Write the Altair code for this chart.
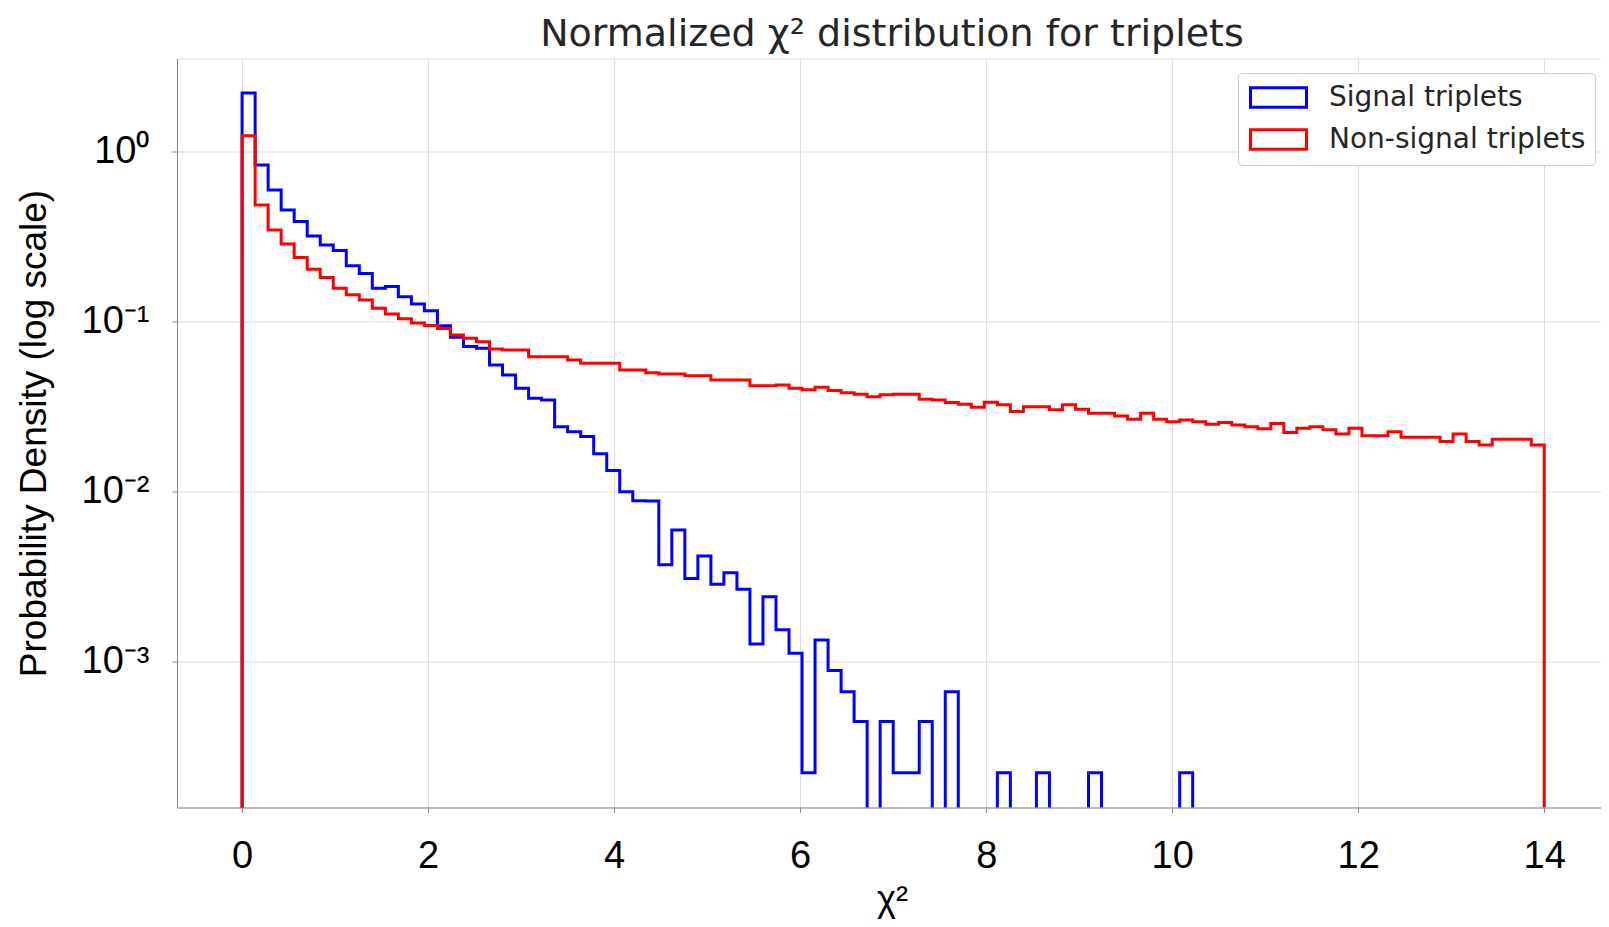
import altair as alt
import pandas as pd

# ---------------- data ----------------
N_BINS = 100
X_MIN, X_MAX = 0.0, 14.0
BIN_W = (X_MAX - X_MIN) / N_BINS
edges = [round(X_MIN + i * BIN_W, 4) for i in range(N_BINS + 1)]

series_names = ["Signal triplets", "Non-signal triplets"]
series_colors = ["#0000ff", "#ff0000"]

signal = [
    2.21, 0.835, 0.595, 0.454, 0.388, 0.319, 0.282, 0.262, 0.213, 0.192,
    0.157, 0.161, 0.140, 0.127, 0.116, 0.0946, 0.0809, 0.0713, 0.0697, 0.0556,
    0.0486, 0.0406, 0.0354, 0.0346, 0.0241, 0.0225, 0.0211, 0.0167, 0.0133, 0.0100,
    0.00885, 0.00880, 0.00372, 0.00595, 0.00308, 0.00418, 0.00285, 0.00333, 0.00267, 0.00127,
    0.00241, 0.00154, 0.00112, 0.000222, 0.00134, 0.000888, 0.000666, 0.000444, 0.0, 0.000444,
    0.000222, 0.000222, 0.000444, 0.0, 0.000666, 0.0, 0.0, 0.0, 0.000222, 0.0,
    0.0, 0.000222, 0.0, 0.0, 0.0, 0.000222, 0.0, 0.0, 0.0, 0.0,
    0.0, 0.0, 0.000222, 0.0, 0.0, 0.0, 0.0, 0.0, 0.0, 0.0,
    0.0, 0.0, 0.0, 0.0, 0.0, 0.0, 0.0, 0.0, 0.0, 0.0,
    0.0, 0.0, 0.0, 0.0, 0.0, 0.0, 0.0, 0.0, 0.0, 0.0,
]

non_signal = [
    1.24, 0.486, 0.346, 0.286, 0.238, 0.203, 0.182, 0.157, 0.144, 0.134,
    0.120, 0.111, 0.104, 0.098, 0.0950, 0.0910, 0.0835, 0.0798, 0.0762, 0.0690,
    0.0680, 0.0680, 0.0622, 0.0622, 0.0622, 0.0595, 0.0569, 0.0569, 0.0569, 0.0520,
    0.0520, 0.0501, 0.0492, 0.0492, 0.0480, 0.0480, 0.0454, 0.0454, 0.0454, 0.0419,
    0.0419, 0.0424, 0.0406, 0.0397, 0.0411, 0.0393, 0.0382, 0.0374, 0.0362, 0.0371,
    0.0374, 0.0374, 0.0349, 0.0346, 0.0334, 0.0327, 0.0314, 0.0336, 0.0324, 0.0296,
    0.0316, 0.0316, 0.0303, 0.0324, 0.0305, 0.0289, 0.0289, 0.0279, 0.0267, 0.0289,
    0.0267, 0.0258, 0.0264, 0.0258, 0.0249, 0.0255, 0.0247, 0.0241, 0.0234, 0.0252,
    0.0223, 0.0236, 0.0241, 0.0231, 0.0218, 0.0236, 0.0213, 0.0213, 0.0225, 0.0209,
    0.0209, 0.0209, 0.0197, 0.0218, 0.0197, 0.0188, 0.0203, 0.0203, 0.0203, 0.0188,
]

x_ticks = [0, 2, 4, 6, 8, 10, 12, 14]
y_ticks = [1, 0.1, 0.01, 0.001]
y_tick_labels = ["10⁰", "10⁻¹", "10⁻²", "10⁻³"]

# ---------------- step-outline table (histtype='step') ----------------
rows = []
for name, vals in zip(series_names, [signal, non_signal]):
    rows.append({"series": name, "x": edges[0], "density": 0.0, "i": 0})
    for k, v in enumerate(vals):
        rows.append({"series": name, "x": edges[k], "density": v, "i": k + 1})
    rows.append({"series": name, "x": edges[-1], "density": 0.0, "i": N_BINS + 1})
df = pd.DataFrame(rows)

TEXT = "#262626"
FONT = "DejaVu Sans"

label_expr = " : ".join(
    f"abs(log(datum.value)/log(10) - ({i * -1})) < 0.01 ? '{lab}'" for i, lab in enumerate(y_tick_labels)
) + " : ''"

PLOT_W, PLOT_H = 1424, 749

x_enc = alt.X(
    "x:Q",
    scale=alt.Scale(domain=[-0.7, 14.61], nice=False, zero=False),
    axis=alt.Axis(
        values=x_ticks, title="χ²", grid=True, labelFontSize=38, labelPadding=25,
        titleFontSize=36, titleFontWeight="normal", titleX=PLOT_W / 2 + 3, titleY=103,
        titleBaseline="alphabetic", titleAlign="center",
    ),
)
y_enc = alt.Y(
    "y:Q",
    scale=alt.Scale(type="log", domain=[1.387e-4, 3.53], nice=False),
    axis=alt.Axis(
        values=y_ticks, labelExpr=label_expr, title="Probability Density (log scale)",
        grid=True, labelFontSize=38, labelPadding=23,
        titleFontSize=37, titleFontWeight="normal", titleX=-143, titleY=PLOT_H / 2,
        titleBaseline="middle", titleAlign="center", titleAngle=270,
    ),
)
color_enc = alt.Color(
    "series:N",
    scale=alt.Scale(domain=series_names, range=series_colors),
    legend=alt.Legend(
        title=None, orient="none", legendX=1061, legendY=14.5,
        symbolType="M-2,-0.7L2,-0.7L2,0.7L-2,0.7Z", symbolSize=784,
        symbolStrokeWidth=3, symbolFillColor="white",
        labelFontSize=28, labelFont=FONT, labelColor=TEXT, labelLimit=500,
        padding=9, rowPadding=9, symbolOffset=16, labelOffset=35,
        strokeColor="#cccccc", fillColor="white", cornerRadius=4,
    ),
)

base = alt.Chart(df).transform_calculate(y="max(datum.density, 1e-7)")
layers = [
    base.transform_filter(alt.datum.series == name)
    .mark_line(interpolate="step-after", clip=True, strokeWidth=3)
    .encode(x=x_enc, y=y_enc, color=color_enc, order=alt.Order("i:Q"))
    for name in series_names
]

chart = (
    alt.layer(*layers)
    .properties(
        width=PLOT_W, height=PLOT_H,
        autosize=alt.AutoSizeParams(type="none"),
        padding={"left": 169, "top": 50.5, "right": 0, "bottom": 118},
        title=alt.Title(
            "Normalized χ² distribution for triplets", fontSize=38, font=FONT,
            fontWeight="normal", color=TEXT, anchor="middle", frame="group",
            baseline="alphabetic", offset=12, dx=3, dy=37,
        ),
    )
    .configure_axis(
        gridColor="#d0d0d0", gridWidth=3, domain=False, ticks=False, tickSize=0,
        labelFont=FONT, labelColor=TEXT, titleFont=FONT, titleColor=TEXT,
    )
    .configure_view(stroke="#cccccc", strokeWidth=3)
    .configure(background="white")
)

chart.save("out.html", embed_options={"renderer": "svg", "actions": False})
